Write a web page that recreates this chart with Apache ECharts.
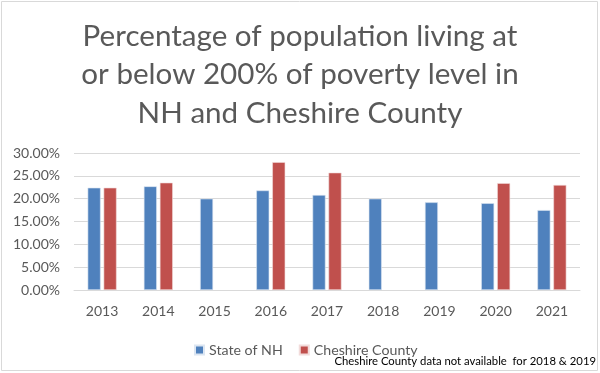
<!DOCTYPE html>
<html><head><meta charset="utf-8">
<script src="https://cdn.jsdelivr.net/npm/echarts@6/dist/echarts.min.js"></script>
<style>html,body{margin:0;padding:0;background:#fff}#c{width:600px;height:373px}</style>
</head><body><div id="c"></div>
<script>
const years = ['2013','2014','2015','2016','2017','2018','2019','2020','2021'];
const nhValues = [22.4, 22.7, 20.0, 21.8, 20.8, 20.0, 19.2, 19.0, 17.5];
const cheshireValues = [22.4, 23.5, null, 28.0, 25.7, null, null, 23.4, 23.0];
const yTicks = [0, 5, 10, 15, 20, 25, 30];
const titleText = 'Percentage of population living at\nor below 200% of poverty level in\nNH and Cheshire County';
const noteText = 'Cheshire County data not available  for 2018 & 2019';
const fontFam = 'Lato, "Open Sans", sans-serif';

const chart = echarts.init(document.getElementById('c'));
chart.setOption({
  animation: false,
  title: {
    text: titleText, left: 'center', top: 12,
    textStyle: { fontFamily: fontFam, fontSize: 29.6, fontWeight: 'normal', color: '#595959', lineHeight: 38.5 }
  },
  legend: {
    data: ['State of NH', 'Cheshire County'], left: 189, top: 338,
    icon: 'rect', itemWidth: 9, itemHeight: 9, itemGap: 16,
    textStyle: { fontFamily: fontFam, fontSize: 14.2, color: '#595959' }
  },
  graphic: [
    { type: 'rect', shape: { x: 1.5, y: 1.5, width: 596, height: 369 }, style: { fill: 'none', stroke: '#d9d9d9', lineWidth: 1 }, silent: true },
    { type: 'text', right: 4, top: 356, style: { text: noteText, font: '11.3px ' + fontFam, fill: '#000' } }
  ],
  grid: { left: 74, right: 20, top: 153, bottom: 83, containLabel: false },
  xAxis: {
    type: 'category', data: years,
    axisLine: { lineStyle: { color: '#d9d9d9' } }, axisTick: { show: false },
    axisLabel: { fontFamily: fontFam, fontSize: 14, color: '#595959', margin: 14 }
  },
  yAxis: {
    type: 'value', min: yTicks[0], max: yTicks[yTicks.length - 1], interval: 5,
    axisLine: { show: false }, axisTick: { show: false },
    splitLine: { lineStyle: { color: '#d9d9d9' } },
    axisLabel: { fontFamily: fontFam, fontSize: 14, color: '#595959', margin: 14, formatter: v => v.toFixed(2) + '%' }
  },
  series: [
    { name: 'State of NH', type: 'bar', data: nhValues, barWidth: 13, barGap: '23%',
      itemStyle: { color: '#4f81bd', borderColor: '#dce6f2', borderWidth: 0.6 } },
    { name: 'Cheshire County', type: 'bar', data: cheshireValues, barWidth: 13,
      itemStyle: { color: '#c0504d', borderColor: '#f2dcdb', borderWidth: 0.6 } }
  ]
});
</script></body></html>
